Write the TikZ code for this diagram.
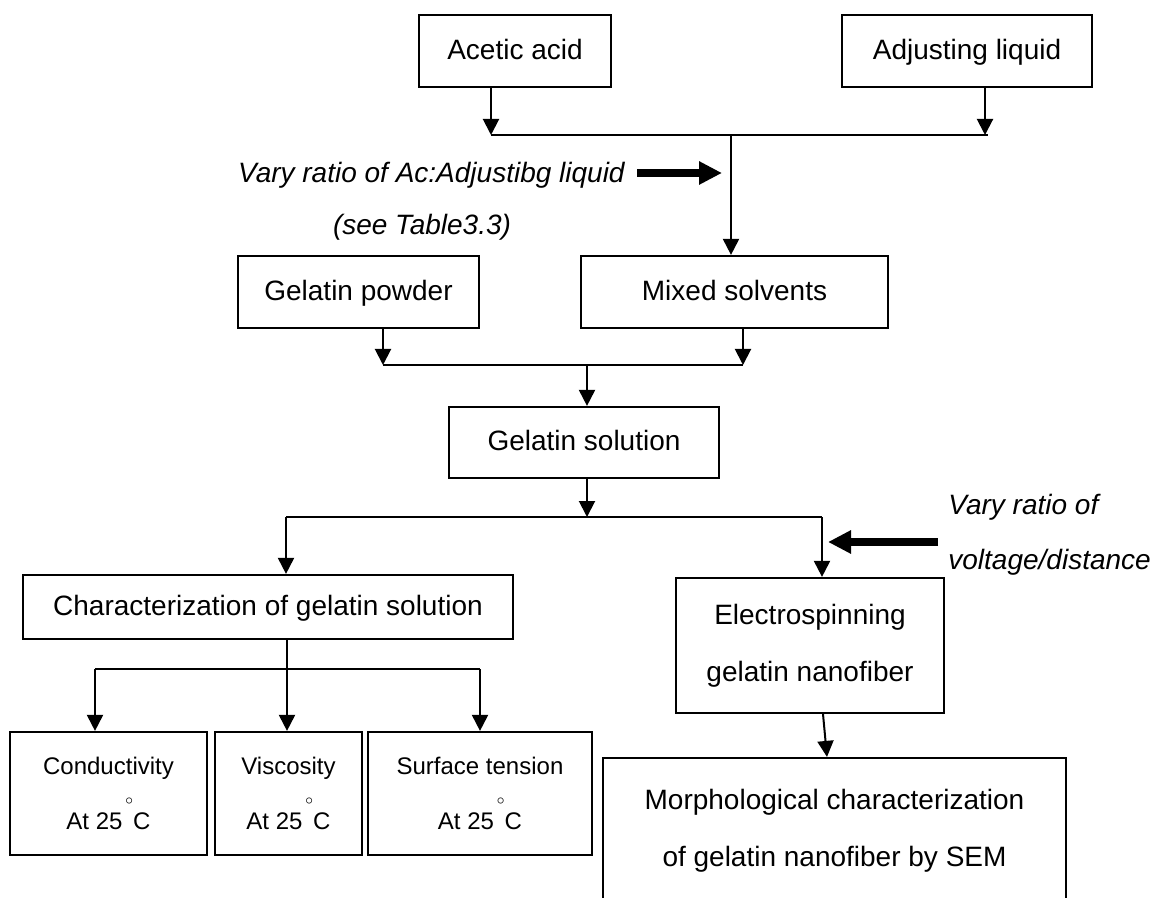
\documentclass[tikz,border=0pt]{standalone}
\usepackage{fontspec}
\setmainfont{Liberation Sans}
\usepackage{tikz}
\usetikzlibrary{
  arrows.meta,
  positioning
}
\newcommand{\degmark}{\makebox[0pt]{\raisebox{1.05em}{\scriptsize$\circ$}}}

\begin{document}
\begin{tikzpicture}[x=0.5pt, y=-0.5pt,
    every node/.style={inner sep=0pt, align=center, font=\fontsize{14}{28.5}\selectfont},
    block/.style={draw, rectangle, line width=1.1pt},
    oneline/.style={block, text height=1.8ex, text depth=.25ex},
    test/.style={block, minimum height=61.5pt, font=\fontsize{12}{27.5}\selectfont},
    note/.style={font=\fontsize{14}{26}\selectfont\itshape},
    link/.style={line width=1pt, -{Triangle[length=8pt,width=8pt]}},
    busline/.style={line width=1pt},
    push/.style={line width=4pt, -{Triangle[length=11.5pt,width=11pt]}}]
\clip (0,0) rectangle (1151,898);
\fill[white] (0,0) rectangle (1151,898);

% solvents
\node [oneline, minimum width=96pt, minimum height=36pt] (acid) at (515,51) {Acetic acid};
\node [oneline, minimum width=125pt, minimum height=36pt] (adjust) at (967,51) {Adjusting liquid};
\coordinate (top1) at (491,135);
\coordinate (top2) at (985,135);
\coordinate (top3) at (731,135);
\draw [link] (acid.south -| top1) -- (top1);
\draw [link] (adjust.south -| top2) -- (top2);
\draw [busline] (top1) -- ([xshift=1.5pt]top2);

\node [note, anchor=east] (ratio) at (625,175) {Vary ratio of Ac:Adjustibg liquid};
\node [note] (table) at (422,227) {(see Table3.3)};
\draw [push] ([xshift=6pt,yshift=1pt]ratio.east) -- ++(42.5pt,0);

% solution
\node [oneline, minimum width=120.5pt, minimum height=36pt] (powder) at (358.5,292) {Gelatin powder};
\node [oneline, minimum width=153.5pt, minimum height=36pt] (mixed) at (734.5,292) {Mixed solvents};
\draw [link] (top3) -- (mixed.north -| top3);
\coordinate (mid1) at (383,365);
\coordinate (mid2) at (743,365);
\coordinate (mid3) at (587,365);
\draw [link] (powder.south -| mid1) -- (mid1);
\draw [link] (mixed.south -| mid2) -- (mid2);
\draw [busline] (mid1) -- (mid2);

\node [oneline, minimum width=135pt, minimum height=35.5pt] (solution) at (584,442.5) {Gelatin solution};
\draw [link] (mid3) -- (solution.north -| mid3);
\coordinate (spl0) at (587,517);
\coordinate (spl1) at (286,517);
\coordinate (spl2) at (822,517);
\draw [link] (solution.south -| spl0) -- (spl0);
\draw [busline] (spl1) -- (spl2);

% characterization
\node [oneline, minimum width=245pt, minimum height=32pt] (charact) at (268,607) {Characterization of gelatin solution};
\draw [link] (spl1) -- (charact.north -| spl1);
\node [test, minimum width=98.5pt] (cond) at (108.5,793.5) {Conductivity\\At 25 \degmark\,C};
\node [test, minimum width=73.5pt] (visc) at (288.5,793.5) {Viscosity\\At 25 \degmark\,C};
\node [test, minimum width=112pt] (surf) at (480,793.5) {Surface tension\\At 25 \degmark\,C};
\coordinate (tst0) at (287,669);
\coordinate (tst1) at (95,669);
\coordinate (tst2) at (480,669);
\draw [link] (charact.south -| tst0) -- (visc.north -| tst0);
\draw [busline] (tst1) -- (tst2);
\draw [link] (tst1) -- (cond.north -| tst1);
\draw [link] (tst2) -- (surf.north -| tst2);

% electrospinning
\node [block, minimum width=134pt, minimum height=67.5pt] (electro) at (810,645.5) {Electrospinning\\gelatin nanofiber};
\draw [link] (spl2) -- (electro.north -| spl2);
\node [note, anchor=west] (volt1) at (948,507) {Vary ratio of};
\node [note, anchor=west] (volt2) at (948,562) {voltage/distance};
\draw [push] ([xshift=-5pt,yshift=10pt]volt2.west) -- ++(-55pt,0);

\node [block, minimum width=231.5pt, minimum height=73pt] (sem) at (834.5,831) {Morphological characterization\\of gelatin nanofiber by SEM};
\coordinate (sem1) at (827,758);
\draw [link] ([xshift=6.5pt]electro.south) -- (sem.north -| sem1);
\end{tikzpicture}
\end{document}
